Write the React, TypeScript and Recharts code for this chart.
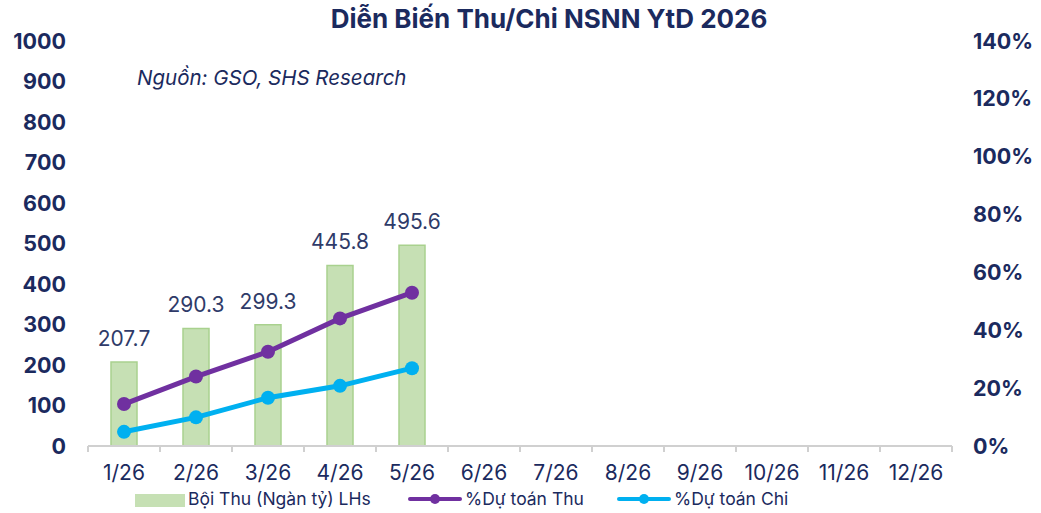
import React from 'react';
import { ComposedChart, Bar, Line, XAxis, YAxis, LabelList } from 'recharts';

const months = ['1/26', '2/26', '3/26', '4/26', '5/26', '6/26', '7/26', '8/26', '9/26', '10/26', '11/26', '12/26'];
const boiThu = [207.7, 290.3, 299.3, 445.8, 495.6, null, null, null, null, null, null, null];
const duToanThu = [14.5, 24.0, 32.6, 44.1, 53.0, null, null, null, null, null, null, null];
const duToanChi = [4.9, 9.9, 16.7, 20.8, 26.9, null, null, null, null, null, null, null];
const leftTicks = [0, 100, 200, 300, 400, 500, 600, 700, 800, 900, 1000];
const rightTicks = [0, 20, 40, 60, 80, 100, 120, 140];

const NAVY = '#1B2A5E';
const GREEN = '#C6E0B4';
const GREEN_EDGE = '#A9D18E';
const PURPLE = '#7030A0';
const CYAN = '#00B0F0';
const AXIS = '#D0D0D0';
const FONT = 'Inter, "Open Sans", sans-serif';

const data = months.map((m, i) => ({
  name: m,
  boiThu: boiThu[i],
  thu: duToanThu[i],
  chi: duToanChi[i],
}));

// month label plus Excel-style tick marks between categories
function MonthTick(props: any) {
  const { x, y, payload, index, visibleTicksCount } = props;
  const half = payload.offset || 36;
  const last = index === visibleTicksCount - 1;
  return (
    <g>
      <line x1={x - half} y1={y} x2={x - half} y2={y + 6} stroke={AXIS} strokeWidth={2} />
      {last && <line x1={x + half} y1={y} x2={x + half} y2={y + 6} stroke={AXIS} strokeWidth={2} />}
      <text x={x} y={y + 26} textAnchor="middle" dominantBaseline="central" fill={NAVY} fontSize={21} fontFamily={FONT}>
        {payload.value}
      </text>
    </g>
  );
}

function LegendLine({ color }: { color: string }) {
  return (
    <svg width={54} height={12} style={{ display: 'block' }}>
      <line x1={2} y1={6} x2={52} y2={6} stroke={color} strokeWidth={4} strokeLinecap="round" />
      <circle cx={27} cy={6} r={5} fill={color} />
    </svg>
  );
}

const legendText = { position: 'absolute' as const, top: 488, fontSize: 17.5, color: NAVY, lineHeight: '22px' };

export default function App() {
  return (
    <div style={{ position: 'absolute', left: 0, top: 0, width: 1041, height: 513, background: '#fff', fontFamily: FONT }}>
      <div style={{ position: 'absolute', top: 4, left: 0, width: 1098, textAlign: 'center', fontSize: 26, lineHeight: '29px', fontWeight: 700, color: NAVY }}>
        Diễn Biến Thu/Chi NSNN YtD 2026
      </div>
      <div style={{ position: 'absolute', top: 66, left: 137, fontSize: 20.5, lineHeight: '24px', fontStyle: 'italic', color: NAVY }}>
        Nguồn: GSO, SHS Research
      </div>
      <ComposedChart width={1041} height={513} data={data} margin={{ top: 41, right: 0, bottom: 37, left: 0 }}>
        <XAxis
          dataKey="name"
          stroke={AXIS}
          strokeWidth={2}
          tickLine={false}
          tickSize={0}
          tickMargin={0}
          height={30}
          interval={0}
          tick={<MonthTick />}
        />
        <YAxis
          yAxisId="left"
          width={88}
          domain={[0, 1000]}
          ticks={leftTicks}
          axisLine={false}
          tickLine={false}
          tickSize={0}
          tickMargin={22}
          interval={0}
          tick={{ fill: NAVY, fontSize: 21.5, fontWeight: 700, fontFamily: FONT }}
        />
        <YAxis
          yAxisId="right"
          orientation="right"
          width={89}
          domain={[0, 140]}
          ticks={rightTicks}
          axisLine={false}
          tickLine={false}
          tickSize={0}
          tickMargin={21}
          interval={0}
          tickFormatter={(v) => `${v}%`}
          tick={{ fill: NAVY, fontSize: 21.5, fontWeight: 700, fontFamily: FONT }}
        />
        <Bar yAxisId="left" dataKey="boiThu" fill={GREEN} stroke={GREEN_EDGE} strokeWidth={1.5} barSize={26} isAnimationActive={false}>
          <LabelList dataKey="boiThu" position="top" offset={16} fill="#2F3B69" fontSize={21} fontFamily={FONT} />
        </Bar>
        <Line yAxisId="right" dataKey="thu" stroke={PURPLE} strokeWidth={5} dot={{ r: 7, fill: PURPLE, stroke: PURPLE, strokeWidth: 0 }} activeDot={false} isAnimationActive={false} />
        <Line yAxisId="right" dataKey="chi" stroke={CYAN} strokeWidth={5} dot={{ r: 7, fill: CYAN, stroke: CYAN, strokeWidth: 0 }} activeDot={false} isAnimationActive={false} />
      </ComposedChart>
      <span style={{ position: 'absolute', left: 135, top: 494, width: 50, height: 13, background: GREEN }} />
      <span style={{ ...legendText, left: 188 }}>Bội Thu (Ngàn tỷ) LHs</span>
      <span style={{ position: 'absolute', left: 408, top: 493 }}><LegendLine color={PURPLE} /></span>
      <span style={{ ...legendText, left: 465 }}>%Dự toán Thu</span>
      <span style={{ position: 'absolute', left: 617, top: 493 }}><LegendLine color={CYAN} /></span>
      <span style={{ ...legendText, left: 674 }}>%Dự toán Chi</span>
    </div>
  );
}
